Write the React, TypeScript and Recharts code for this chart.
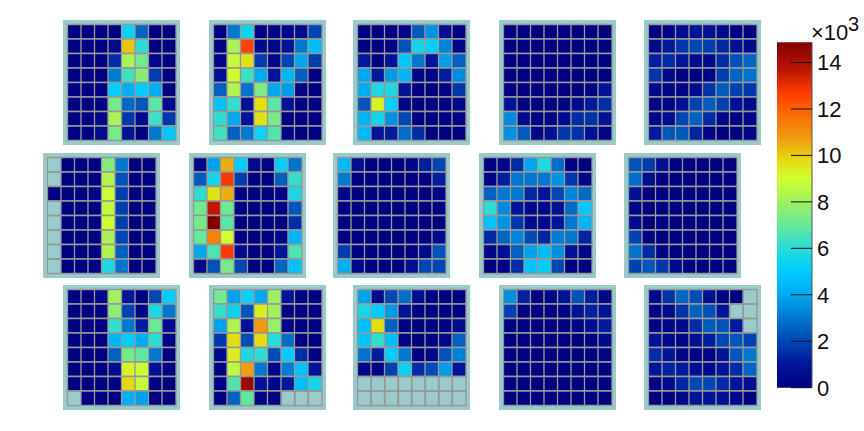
import { Bar, BarChart, Cell, XAxis, YAxis } from "recharts";

type Grid = (number | null)[][];

// cell values in thousands, rows listed top to bottom, null = no data
const panel1: Grid = [
  [0, 0, 0, 0.1, 5.3, 2.6, 0, 0],
  [0, 0, 0, 0.5, 10.1, 6.1, 0, 0.1],
  [0, 0, 0, 1.5, 8.2, 7.2, 0.4, 0.1],
  [0, 0, 0, 3.1, 6.4, 7.6, 1.8, 0.1],
  [0, 0, 0, 5.1, 4.2, 5, 4.2, 0.1],
  [0, 0, 0.1, 7.2, 2.7, 2.3, 6.8, 0.5],
  [0, 0.1, 0.4, 8.2, 1.7, 0.5, 6.3, 1.7],
  [0, 0.1, 0.5, 7.3, 0.9, 0, 3, 4.9],
];
const panel2: Grid = [
  [0, 3, 5.5, 0.1, 0.3, 0.3, 0.6, 2],
  [0, 8.2, 12.5, 0.6, 0.4, 0.9, 3, 4.6],
  [0.2, 8.7, 9.6, 1.8, 0.4, 2, 4, 1.8],
  [0.8, 9.1, 6.3, 4.1, 1, 4.4, 2.5, 0.1],
  [2.5, 8.3, 2.9, 7.4, 4, 3.8, 0.2, 0],
  [4.7, 6.2, 0.9, 9.7, 6.8, 0.9, 0, 0],
  [6.1, 4, 0.9, 9.6, 7.3, 0, 0, 0],
  [6.4, 2.5, 3, 5.3, 6.7, 0.3, 0, 0],
];
const panel3: Grid = [
  [0, 0, 0.1, 0.3, 2.4, 3.6, 0.7, 0],
  [0, 0, 0.2, 2.2, 5.5, 5.1, 3.3, 0.3],
  [1.1, 0, 0.9, 4.9, 3, 1, 3.8, 2.5],
  [4, 1.1, 3.7, 4.4, 0.3, 0.2, 1.2, 3.4],
  [4.1, 5.8, 5.8, 0.9, 0, 0, 0.2, 1.7],
  [2.3, 9.2, 5.1, 0.3, 0, 0, 0.1, 0.4],
  [4.3, 5.5, 3.6, 2, 0.1, 0, 0.1, 0.2],
  [4.5, 0.9, 1.1, 2.8, 1.5, 0, 0, 0.1],
];
const panel4: Grid = [
  [0, 0, 0, 0, 0, 0, 0, 0],
  [0, 0, 0, 0, 0, 0, 0, 0],
  [0, 0, 0, 0, 0, 0, 0, 0],
  [0, 0, 0, 0, 0, 0, 0, 0],
  [0, 0, 0, 0, 0, 0, 0.2, 1],
  [0.9, 0, 0, 0, 0.1, 0.5, 1.1, 1.5],
  [3.4, 0.5, 0.1, 0.2, 0.6, 1.5, 1.6, 0.9],
  [3.5, 2.4, 0.4, 0.8, 1.7, 1.6, 0.8, 0.2],
];
const panel5: Grid = [
  [0, 0.2, 0.6, 1, 0.8, 0.5, 0.1, 0],
  [0.5, 1.1, 1.7, 2, 1.8, 1.4, 0.8, 0.5],
  [1.2, 1.5, 1, 0.6, 0.6, 1.5, 2.2, 2.6],
  [1.7, 0.5, 0.1, 0, 0.3, 1.8, 2.6, 2.9],
  [0.5, 0.3, 0.2, 0.5, 1.6, 2.4, 1.9, 1.7],
  [0.2, 0.3, 0.8, 1.9, 2.4, 1.9, 0.8, 0.5],
  [0.3, 0.7, 2, 2.5, 1.5, 0.4, 0.1, 0.2],
  [1.1, 2.3, 2.4, 1.3, 0.3, 0, 0.1, 0.3],
];
const panel6: Grid = [
  [null, 0, 0, 0.1, 7.5, 3, 0, 0],
  [null, 0, 0, 0.1, 8.4, 2.2, 0, 0],
  [0, 0, 0.1, 0.2, 8.9, 1.8, 0, 0],
  [null, 0, 0.1, 0.1, 8.7, 1.8, 0, 0],
  [null, 0, 0.1, 0.1, 9, 1.8, 0, 0],
  [null, 0, 0, 0.1, 8.2, 2, 0, 0],
  [null, 0, 0, 0.1, 8.3, 2.5, 0, 0],
  [null, 0, 0.1, 0.1, 5.8, 2.9, 0, 0],
];
const panel7: Grid = [
  [0.3, 3.9, 10.5, 5, 0.5, 0.2, 5.1, 2.9],
  [2.4, 5.5, 12.8, 1.8, 0.1, 0, 2.5, 6.2],
  [6.1, 9.6, 10.5, 0.1, 0.1, 0, 0.4, 5.6],
  [7.2, 13.6, 7.1, 0.1, 0, 0, 0.2, 2.3],
  [7.3, 14.8, 6.8, 0, 0, 0, 0.1, 1.5],
  [7, 11.3, 9, 0.1, 0, 0, 0.3, 4.4],
  [4, 6.6, 12.7, 0.6, 0, 0, 1, 6.6],
  [0.4, 2.2, 7.3, 2, 0, 0, 2.6, 4.7],
];
const panel8: Grid = [
  [4.5, 0.7, 0.1, 0, 0, 0.3, 1.2, 2],
  [3, 0, 0.1, 0, 0, 0, 0.1, 1.2],
  [0.4, 0.1, 0, 0, 0, 0, 0, 0.2],
  [0.1, 0.1, 0.1, 0.1, 0, 0, 0, 0.1],
  [0.1, 0, 0.1, 0.1, 0, 0, 0, 0],
  [0.1, 0, 0, 0, 0, 0, 0, 0.6],
  [1.8, 0.1, 0, 0, 0, 0, 0.5, 2.2],
  [4.2, 0.4, 0, 0, 0, 0.8, 2, 2],
];
const panel9: Grid = [
  [0.1, 0.3, 1.5, 4, 5.8, 2.8, 0.1, 0],
  [0.2, 1.2, 3, 3, 3, 3.6, 1.7, 0.4],
  [2.5, 3, 3, 1.4, 1, 2, 3.3, 2.7],
  [6.1, 3.4, 1, 0.4, 0.4, 0.8, 2.7, 4.9],
  [4.7, 3.6, 1.7, 0.6, 0.5, 1, 3, 4.4],
  [1.4, 2.6, 3.3, 2.1, 1.3, 3.1, 3, 1.3],
  [0.3, 0.8, 2.5, 3.9, 4.5, 3.5, 0.9, 0.3],
  [0, 0.2, 1.5, 4.8, 5.1, 2, 0, 0.1],
];
const panel10: Grid = [
  [2.2, 1.8, 0.8, 0, 0, 0, 0, 0],
  [2.8, 0.7, 0, 0, 0, 0, 0, 0],
  [0.9, 0, 0, 0, 0, 0, 0, 0],
  [0.3, 0, 0, 0, 0, 0, 0, 0],
  [0.6, 0, 0, 0, 0, 0, 0, 0],
  [1.9, 0.2, 0, 0, 0, 0, 0, 0],
  [2.9, 1.5, 0.2, 0, 0, 0, 0, 0],
  [1.9, 2.3, 1.7, 0.5, 0.1, 0, 0.1, 0.1],
];
const panel11: Grid = [
  [0, 0, 0.4, 8, 1, 0, 2, 5],
  [0, 0, 0.1, 7.6, 1.9, 0.2, 5.7, 3],
  [0, 0, 0, 6.2, 3, 1.2, 7.1, 0.6],
  [0, 0, 0, 4.4, 5, 4.1, 6, 0.2],
  [0, 0, 0, 2.5, 7.3, 6.9, 3, 0.1],
  [0, 0, 0, 0.6, 9.2, 8.9, 0.8, 0.1],
  [0, 0, 0, 0.2, 9.8, 8.8, 0.2, 0],
  [null, 0, 0, 0.1, 4.2, 3.9, 0, 0],
];
const panel12: Grid = [
  [7.2, 3.9, 5.2, 4, 7.9, 1, 0.1, 0],
  [6.2, 5.4, 2.3, 9.4, 8, 0.1, 0, 0],
  [3.9, 8.3, 0.8, 10.8, 7.9, 0.2, 0, 0],
  [1.7, 9.7, 2.1, 9.7, 6, 2.8, 0, 0],
  [0.5, 9.4, 5.8, 6.1, 2.1, 5, 1.5, 0.1],
  [0, 8.6, 10.7, 3, 0.3, 3.1, 4.7, 0.9],
  [0, 6.7, 14.3, 0.9, 0.4, 1.1, 4.6, 5.6],
  [0, 2.6, 6.9, 0.2, 0.2, null, null, null],
];
const panel13: Grid = [
  [3.9, 0.6, 2, 2.8, 0.7, 0.1, 0, 0],
  [5.6, 5, 3.7, 1, 0.1, 0, 0.1, 0.1],
  [4.7, 9.7, 2.5, 0.1, 0, 0.1, 0.1, 0.6],
  [4.8, 6.2, 4.6, 0.2, 0, 0.1, 0.4, 2.5],
  [2.9, 1.2, 5, 3, 0.1, 0.3, 2.2, 3.2],
  [0.3, 0.1, 1.9, 5.3, 1.5, 2.1, 3.8, 1],
  [null, null, null, null, null, null, null, null],
  [null, null, null, null, null, null, null, null],
];
const panel14: Grid = [
  [3.5, 1.3, 0.1, 0.3, 1, 2.2, 1.2, 0.4],
  [1.9, 0.1, 0, 0.1, 0.2, 0.9, 1.3, 1],
  [0.1, 0, 0, 0, 0, 0.3, 0.7, 1.1],
  [0, 0, 0, 0, 0, 0, 0.1, 0.5],
  [0, 0, 0, 0, 0, 0, 0, 0.2],
  [0, 0, 0, 0, 0, 0, 0, 0],
  [0, 0, 0, 0, 0, 0, 0, 0],
  [0, 0, 0, 0, 0, 0, 0, 0],
];
const panel15: Grid = [
  [0.5, 1.6, 2.6, 2.1, 0.8, 0.2, 0, null],
  [0.2, 0.5, 1.6, 2.5, 2.2, 1, null, null],
  [0.1, 0.3, 0.6, 1.5, 2.4, 2.2, 1.1, null],
  [0.9, 0.5, 0.2, 0.8, 1.2, 2, 2.3, 1.9],
  [1.5, 1, 0.4, 0.1, 0.2, 1, 2.3, 3],
  [1, 1.3, 1.1, 0.7, 0.5, 1, 1.5, 2.6],
  [0.2, 0.6, 1.4, 2, 2, 1.5, 1, 0.7],
  [0, 0.1, 0.4, 0.9, 1, 0.8, 0.4, 0.1],
];

const panels = [
  panel1, panel2, panel3, panel4, panel5,
  panel6, panel7, panel8, panel9, panel10,
  panel11, panel12, panel13, panel14, panel15,
];

const colorTicks = [0, 2, 4, 6, 8, 10, 12, 14];
const colorMax = 14.87;
const colorStops = [0, 1, 2.5, 4, 5, 6, 7, 8, 9, 9.8, 10.8, 12, 12.7, 13.6, 14.87];
const colorValues = [
  "#000080", "#00149a", "#0060c0", "#00a8ee", "#00ccff",
  "#28dcd8", "#66e899", "#a0f060", "#d0ff30", "#e6d810",
  "#f09a10", "#fa6000", "#ff3c00", "#c01800", "#800000",
];

const rowKeys = ["r0", "r1", "r2", "r3", "r4", "r5", "r6", "r7"];
// every cell takes one unit of the stack, colour carries the value
const columns = [0, 1, 2, 3, 4, 5, 6, 7].map((col) => {
  const row: Record<string, number> = { col };
  rowKeys.forEach((k) => (row[k] = 1));
  return row;
});

const TEAL = "#9acbcb";

function hexToRgb(hex: string) {
  return [1, 3, 5].map((i) => parseInt(hex.slice(i, i + 2), 16));
}

function valueColor(value: number | null) {
  if (value === null) return "transparent";
  let i = 0;
  while (i < colorStops.length - 2 && value > colorStops[i + 1]) i++;
  const t = (value - colorStops[i]) / (colorStops[i + 1] - colorStops[i]);
  const a = hexToRgb(colorValues[i]);
  const b = hexToRgb(colorValues[i + 1]);
  const c = a.map((v, j) => Math.round(v + (b[j] - v) * Math.min(t, 1)));
  return `rgb(${c[0]},${c[1]},${c[2]})`;
}

function HeatPanel({ grid, left, top }: { grid: Grid; left: number; top: number }) {
  return (
    <div style={{ position: "absolute", left, top, background: TEAL }}>
      <BarChart
        width={117}
        height={125}
        data={columns}
        margin={{ top: 4.5, right: 4.5, bottom: 4.5, left: 4.5 }}
        barCategoryGap={0}
        barGap={0}
      >
        <XAxis dataKey="col" hide />
        <YAxis hide reversed domain={[0, 8]} />
        {rowKeys.map((key, r) => (
          <Bar
            key={key}
            dataKey={key}
            stackId="cells"
            stroke="#989898"
            strokeWidth={1.3}
            isAnimationActive={false}
          >
            {columns.map((c) => (
              <Cell key={c.col} fill={valueColor(grid[r][c.col])} />
            ))}
          </Bar>
        ))}
      </BarChart>
    </div>
  );
}

const rowTops = [20, 152.5, 285];
const rowLefts = [
  [63, 208.5, 353, 498.5, 643.5],
  [43, 188.5, 333, 478.5, 623.5],
  [63, 208.5, 353, 498.5, 643.5],
];

function ColorBar() {
  return (
    <div style={{ position: "absolute", left: 777, top: 20 }}>
      <BarChart
        width={87}
        height={390}
        data={[{ name: "scale", value: colorMax }]}
        margin={{ top: 22.3, right: 0, bottom: 22.3, left: 0 }}
        barCategoryGap={0}
      >
        <defs>
          <linearGradient id="jet" x1="0" y1="1" x2="0" y2="0">
            {colorStops.map((s, i) => (
              <stop key={s} offset={s / colorMax} stopColor={colorValues[i]} />
            ))}
          </linearGradient>
        </defs>
        <XAxis dataKey="name" hide />
        <YAxis
          orientation="right"
          width={52}
          domain={[0, colorMax]}
          ticks={colorTicks}
          interval={0}
          tickSize={-21}
          tickMargin={26}
          axisLine={{ stroke: "#555", strokeWidth: 1 }}
          tickLine={{ stroke: "#111", strokeWidth: 1 }}
          tick={{ fill: "#111", fontSize: 22, fontFamily: "'Liberation Sans'" }}
        />
        <Bar dataKey="value" fill="url(#jet)" isAnimationActive={false} />
      </BarChart>
    </div>
  );
}

const unitStyle = {
  position: "absolute",
  fontFamily: "'Liberation Sans'",
  color: "#111",
  whiteSpace: "nowrap",
  lineHeight: "24px",
} as const;

export default function App() {
  return (
    <div style={{ position: "absolute", left: 0, top: 0, width: 864, height: 431, background: "#fff" }}>
      {panels.map((grid, i) => (
        <HeatPanel
          key={i}
          grid={grid}
          left={rowLefts[Math.floor(i / 5)][i % 5]}
          top={rowTops[Math.floor(i / 5)]}
        />
      ))}
      <ColorBar />
      <span style={{ ...unitStyle, left: 811, top: 21, fontSize: 22 }}>×10</span>
      <span style={{ ...unitStyle, left: 848, top: 12, fontSize: 20 }}>3</span>
    </div>
  );
}
